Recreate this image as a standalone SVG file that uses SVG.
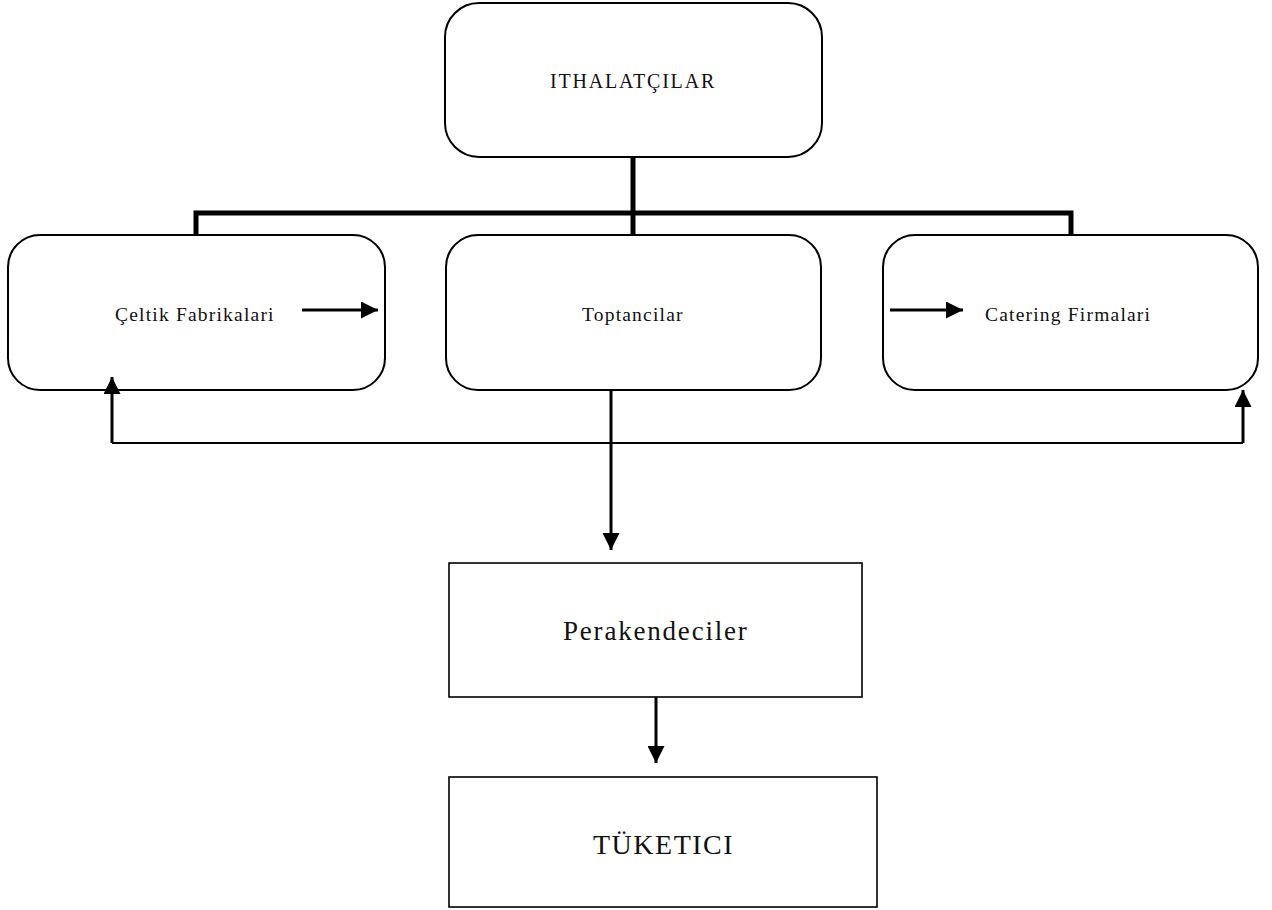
<svg xmlns="http://www.w3.org/2000/svg" width="1272" height="910" viewBox="0 0 1272 910">
  <style>
    .box { fill: #fff; stroke: #000; stroke-width: 2; }
    .rect { fill: #fff; stroke: #000; stroke-width: 1.6; }
    .bus { fill: none; stroke: #000; stroke-width: 5; }
    .flow { fill: none; stroke: #000; stroke-width: 3; }
    .thin { fill: none; stroke: #000; stroke-width: 2; }
    .lbl { font-family: "Liberation Serif", "Times New Roman", serif; fill: #111; }
    .sm { font-size: 19.5px; letter-spacing: 1.2px; }
    .lg { font-size: 27px; letter-spacing: 1.8px; }
  </style>
  <defs>
    <marker id="head" viewBox="0 0 10 10" refX="10" refY="5" markerWidth="17" markerHeight="17" markerUnits="userSpaceOnUse" orient="auto">
      <path d="M0,0 L10,5 L0,10 Z" fill="#000"/>
    </marker>
  </defs>

  <g id="ithalatcilar">
    <rect class="box" x="445" y="3" width="377" height="154" rx="34"/>
    <text class="lbl sm" x="550" y="88" style="font-size:20px;letter-spacing:1.8px">ITHALATÇILAR</text>
  </g>

  <g id="celtik">
    <rect class="box" x="8" y="235" width="377" height="155" rx="32"/>
    <text class="lbl sm" x="115" y="321">Çeltik Fabrikalari</text>
  </g>

  <g id="toptancilar">
    <rect class="box" x="446" y="235" width="375" height="155" rx="32"/>
    <text class="lbl sm" x="582" y="321">Toptancilar</text>
  </g>

  <g id="catering">
    <rect class="box" x="883" y="235" width="375" height="155" rx="32"/>
    <text class="lbl sm" x="985" y="321">Catering Firmalari</text>
  </g>

  <g id="perakendeciler">
    <rect class="rect" x="449" y="563" width="413" height="134"/>
    <text class="lbl lg" x="563" y="640">Perakendeciler</text>
  </g>

  <g id="tuketici">
    <rect class="rect" x="449" y="777" width="428" height="130"/>
    <text class="lbl lg" x="593" y="854" style="font-size:28px;letter-spacing:1.5px">TÜKETICI</text>
  </g>

  <!-- hierarchy bus and flow arrows, drawn over the boxes -->
  <g id="connectors">
    <path class="bus" d="M633,157 V235 M196,235 V213 H1071 V235"/>
    <path class="flow" d="M302,310 H378" marker-end="url(#head)"/>
    <path class="flow" d="M890,310 H963" marker-end="url(#head)"/>
    <path class="thin" d="M112,443 H1243"/>
    <path class="flow" d="M112,443 V377" marker-end="url(#head)"/>
    <path class="flow" d="M1243,443 V390" marker-end="url(#head)"/>
    <path class="flow" d="M611,390 V550" marker-end="url(#head)"/>
    <path class="flow" d="M656,697 V763" marker-end="url(#head)"/>
  </g>
</svg>
